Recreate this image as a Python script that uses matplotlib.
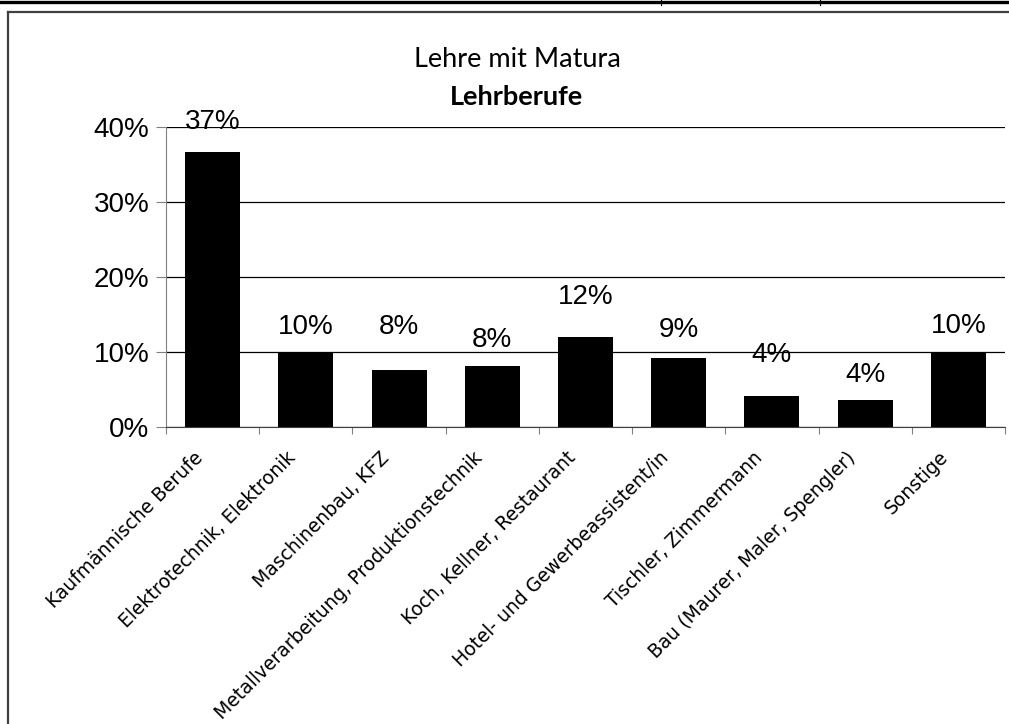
import matplotlib
matplotlib.use("Agg")
import matplotlib.pyplot as plt
from matplotlib.lines import Line2D
from matplotlib.ticker import FixedLocator, PercentFormatter
from matplotlib.transforms import ScaledTranslation

categories = [
    "Kaufmännische Berufe",
    "Elektrotechnik, Elektronik",
    "Maschinenbau, KFZ",
    "Metallverarbeitung, Produktionstechnik",
    "Koch, Kellner, Restaurant",
    "Hotel- und Gewerbeassistent/in",
    "Tischler, Zimmermann",
    "Bau (Maurer, Maler, Spengler)",
    "Sonstige",
]
values = [36.7, 9.8, 7.6, 8.1, 12.0, 9.2, 4.1, 3.6, 10.0]
value_labels = ["37%", "10%", "8%", "8%", "12%", "9%", "4%", "4%", "10%"]
y_ticks = [0, 10, 20, 30, 40]

# label offsets above bar top (pixels), as placed in the original
label_offsets_px = [30, 26, 43, 26, 40, 28, 41, 25, 26]

W, H = 1009, 724
fig = plt.figure(figsize=(W / 100, H / 100), dpi=100)

def fx(px):
    return px / W

def fy(py):
    return 1 - py / H

# decorations: top rule and frame
fig.add_artist(Line2D([0, 1], [fy(1.5), fy(1.5)], color="black", lw=2.4, transform=fig.transFigure))
for xv in (661, 820):
    fig.add_artist(Line2D([fx(xv), fx(xv)], [fy(0), fy(5)], color="black", lw=0.8, transform=fig.transFigure))
fig.add_artist(Line2D([fx(8), fx(8)], [fy(12), fy(724)], color="#404040", lw=1.6, transform=fig.transFigure))
fig.add_artist(Line2D([fx(8), 1], [fy(12), fy(12)], color="#404040", lw=1.6, transform=fig.transFigure))

left, right, top, bottom = 166, 1005, 127, 427
ax = fig.add_axes([fx(left), fy(bottom), fx(right - left), (bottom - top) / H])

x = list(range(len(categories)))
bars = ax.bar(x, values, width=0.59, color="black", zorder=3)

ax.set_xlim(-0.5, len(categories) - 0.5)
ax.set_ylim(0, 40)
ax.yaxis.set_major_locator(FixedLocator(y_ticks))
ax.yaxis.set_major_formatter(PercentFormatter(decimals=0))
ax.grid(axis="y", color="black", lw=0.9, zorder=0)
ax.set_axisbelow(True)

for s in ("top", "right"):
    ax.spines[s].set_visible(False)
ax.spines["left"].set_color("#808080")
ax.spines["bottom"].set_color("#404040")

ax.tick_params(axis="y", length=7, color="#808080", labelsize=20, pad=5)
for t in ax.get_yticklabels():
    t.set_fontfamily("Liberation Sans")

ax.set_xticks([i - 0.5 for i in range(len(categories) + 1)], minor=False)
ax.set_xticklabels([])
ax.tick_params(axis="x", which="major", length=5, color="#808080")
ax.set_xticks(x, minor=True)
ax.set_xticklabels(categories, minor=True, rotation=45, ha="right", rotation_mode="default",
                   fontsize=13.5, fontfamily="DejaVu Sans")
ax.tick_params(axis="x", which="minor", length=0, pad=15)
shift = ScaledTranslation(-6 / 100, 0, fig.dpi_scale_trans)
for t in ax.get_xticklabels(minor=True):
    t.set_transform(t.get_transform() + shift)

for xi, v, lab, off in zip(x, values, value_labels, label_offsets_px):
    ax.annotate(lab, (xi, v), xytext=(0, off), textcoords="offset pixels",
                ha="center", va="center", fontsize=20, fontfamily="Liberation Sans", zorder=5)

fig.text(fx(517), fy(67), "Lehre mit Matura", ha="center", va="baseline", fontsize=19.5, fontfamily="Lato")
fig.text(fx(517), fy(105), "Lehrberufe", ha="center", va="baseline", fontsize=19.5, fontweight="bold", fontfamily="Lato")

fig.savefig("out.png", dpi=100)
